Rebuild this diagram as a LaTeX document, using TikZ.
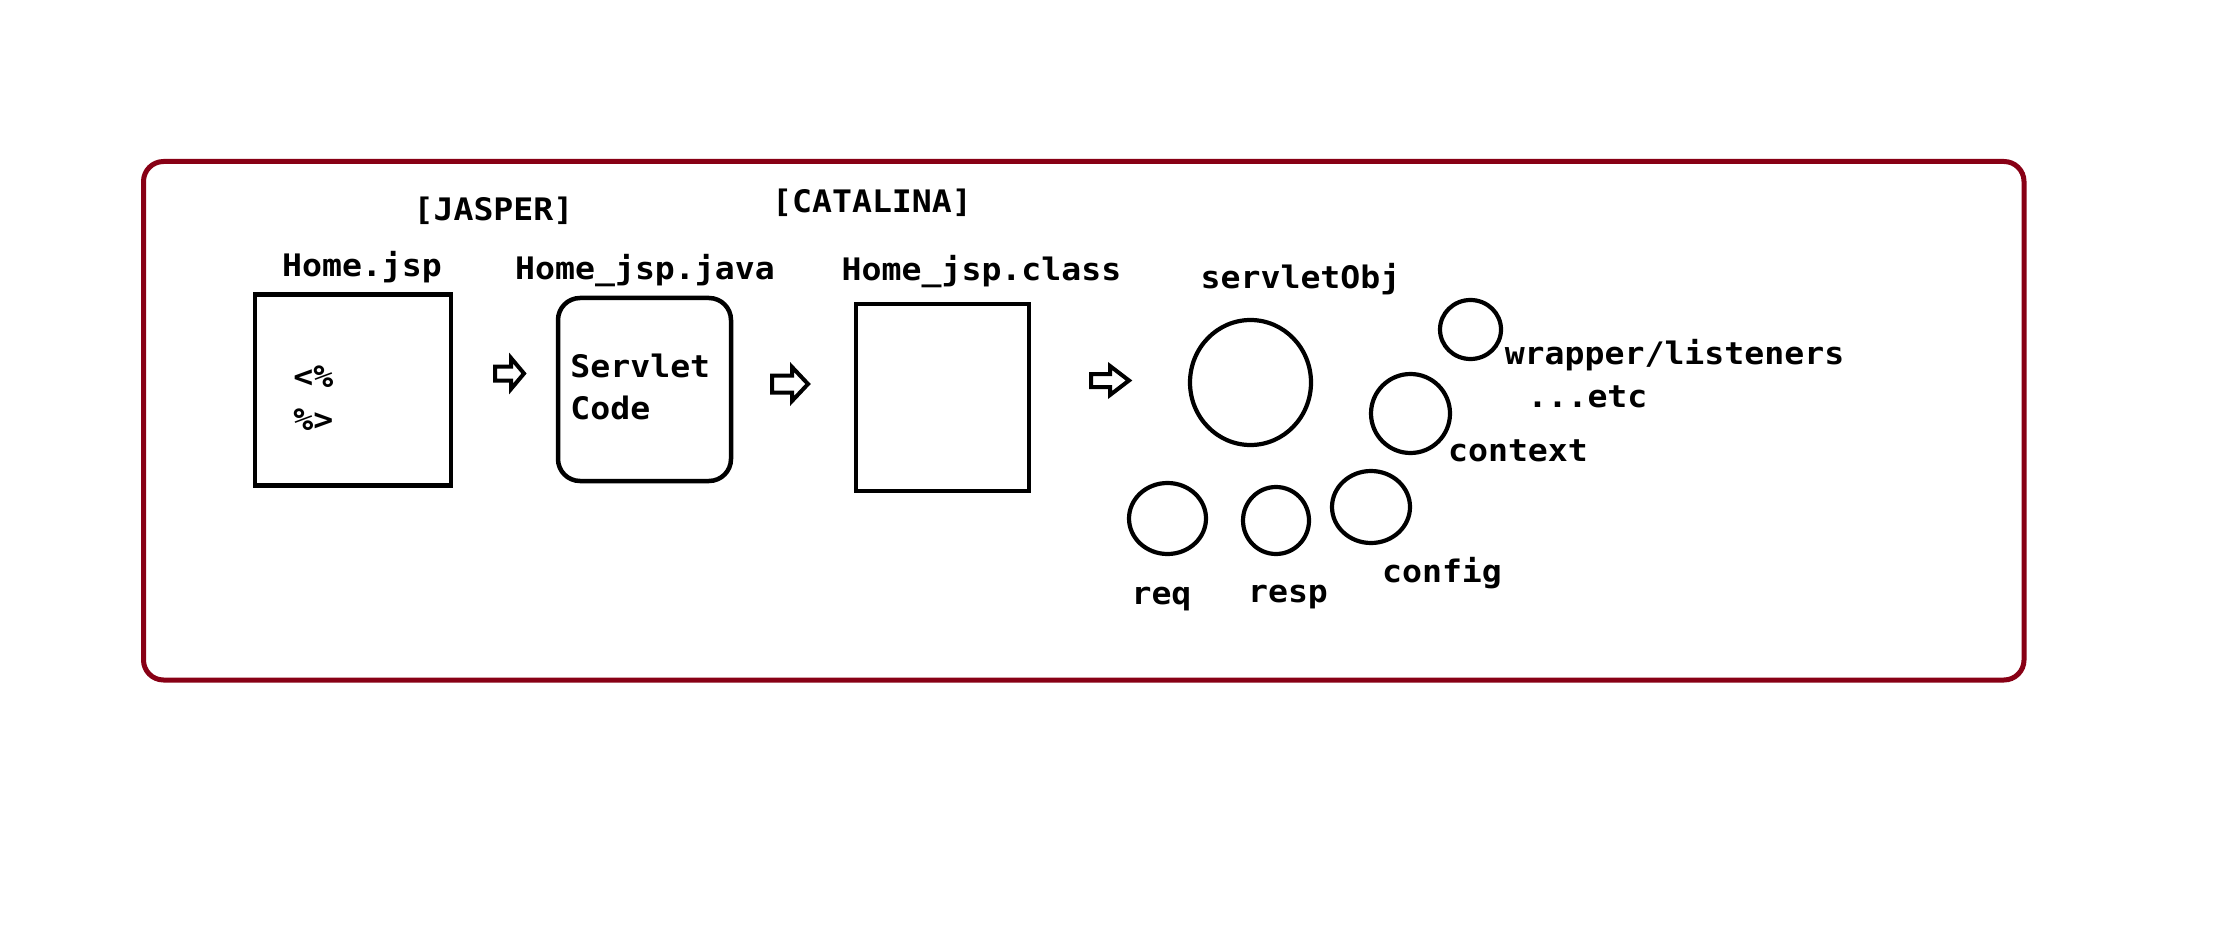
\documentclass[tikz,border=0pt]{standalone}
\usepackage{fontspec}
\newfontfamily\codefont[FakeStretch=1.07]{DejaVu Sans Mono}
\usetikzlibrary{shapes.geometric}
\definecolor{framered}{RGB}{136,0,21}
\begin{document}
\begin{tikzpicture}[x=0.5pt,y=-0.5pt,
  lbl/.style={inner sep=0pt, anchor=base, font=\codefont\bfseries\fontsize{15.5pt}{19pt}\selectfont},
  lbll/.style={lbl, anchor=base west},
  sqbox/.style={draw=black, line width=2.4pt, inner sep=0pt},
  rbox/.style={draw=black, line width=2.25pt, rounded corners=11pt, inner sep=0pt},
  obj/.style={draw=black, ellipse, line width=2.1pt, inner sep=0pt},
  frame/.style={draw=framered, line width=2.5pt, rounded corners=10pt, inner sep=0pt},
  arrowline/.style={draw=black, line width=2pt, line join=miter},
  pics/blk/.style n args={5}{code={
    \draw[arrowline] (-#1,-#3) -- (#4,-#3) -- (#4,-#2) -- (#5,0) -- (#4,#2) -- (#4,#3) -- (-#1,#3) -- cycle;
  }}
]
\useasboundingbox (0,0) rectangle (2216,952);
\fill[white] (0,0) rectangle (2216,952);

% outer frame
\node[frame, minimum width=940.25pt, minimum height=259.25pt] (frame) at (1083.75,420.75) {};

% titles
\node[lbl] (jasper) at (493.5,221) {[JASPER]};
\node[lbl] (catalina) at (872,213) {[CATALINA]};

% file labels
\node[lbl] (ljsp) at (362,277) {Home.jsp};
\node[lbl] (ljava) at (645,279) {Home\_jsp.java};
\node[lbl] (lclass) at (981.5,281) {Home\_jsp.class};
\node[lbl] (lobj) at (1300.5,289) {servletObj};

% boxes
\node[sqbox, minimum width=98pt, minimum height=95.75pt] (jsp) at (353,390) {};
\node[rbox, minimum width=86.5pt, minimum height=91.5pt] (java) at (644.5,389.5) {};
\node[sqbox, minimum width=86.5pt, minimum height=93.5pt] (class) at (942.5,397.5) {};

% box contents
\node[lbll] (open) at (293,387) {<\%};
\node[lbll] (close) at (293,430) {\%>};
\node[lbll] (servlet) at (570,377) {Servlet};
\node[lbll] (code) at (570,419) {Code};

% block arrows
\pic (a1) at (510,373.5) {blk={15}{15.5}{7}{1}{14}};
\pic (a2) at (790,384) {blk={18}{17}{8.5}{2}{18}};
\pic (a3) at (1110,380.5) {blk={19}{14.5}{6.5}{0}{19}};

% objects
\node[obj, minimum width=60.5pt, minimum height=62.5pt] (servletobj) at (1250.5,382.5) {};
\node[obj, minimum width=30.5pt, minimum height=29.5pt] (wrapper) at (1470.5,329.5) {};
\node[obj, minimum width=39.5pt, minimum height=39.5pt] (context) at (1410.5,413.5) {};
\node[obj, minimum width=39pt, minimum height=36pt] (config) at (1371,507) {};
\node[obj, minimum width=38.5pt, minimum height=35.5pt] (req) at (1167.5,518.5) {};
\node[obj, minimum width=33pt, minimum height=33.5pt] (resp) at (1276,520.5) {};

% object labels
\node[lbl] (lwrapper) at (1674.5,364) {wrapper/listeners};
\node[lbl] (letc) at (1587.5,407) {...etc};
\node[lbl] (lcontext) at (1518,461) {context};
\node[lbl] (lconfig) at (1442,582) {config};
\node[lbl] (lreq) at (1161.5,604) {req};
\node[lbl] (lresp) at (1288,602) {resp};
\end{tikzpicture}
\end{document}
